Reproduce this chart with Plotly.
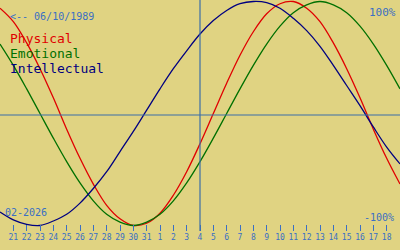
import plotly.graph_objects as go

# day index: 0 = Jan 21 (2026), -1 = Jan 20 ... 29 = Feb 19
days = list(range(-1, 30))
tick_days = list(range(0, 29))
tick_labels = ["21", "22", "23", "24", "25", "26", "27", "28", "29", "30", "31",
               "1", "2", "3", "4", "5", "6", "7", "8", "9", "10", "11", "12",
               "13", "14", "15", "16", "17", "18"]

physical = [94, 82, 63, 40, 14, -14, -40, -63, -82, -94, -100, -98, -89, -73, -52, -27,
            0, 27, 52, 73, 89, 98, 100, 94, 82, 63, 40, 14, -14, -40, -63]
emotional = [62, 43, 22, 0, -22, -43, -62, -78, -90, -97, -100, -97, -90, -78, -62, -43,
             -22, 0, 22, 43, 62, 78, 90, 97, 100, 97, 90, 78, 62, 43, 22]
intellectual = [-88, -95, -99, -100, -96, -90, -80, -67, -52, -34, -16, 3, 22, 40, 56, 71,
                83, 92, 98, 100, 99, 94, 85, 74, 60, 43, 25, 7, -12, -30, -45]

today = 14          # Feb 4
birth_text = "<-- 06/10/1989"
date_text = "02-2026"
series_names = ["Physical", "Emotional", "Intellectual"]

BG = "#E0D382"
BLUE = "#3A6FC4"
LINE = "#3A6EA8"
COLORS = ["#E00000", "#007000", "#000080"]
FONT = "DejaVu Sans Mono"

W, H = 400, 250
PB = 231  # plot bottom pixel


def px(x):
    return x / W


def py(p):
    return (PB - p) / PB


fig = go.Figure()
for name, vals, col in zip(series_names, [physical, emotional, intellectual], COLORS):
    fig.add_trace(go.Scatter(x=days, y=vals, mode="lines", name=name,
                             line=dict(color=col, width=1.3, shape="spline"),
                             hoverinfo="skip"))

fig.add_shape(type="line", xref="paper", yref="paper", x0=0, x1=1,
              y0=py(115), y1=py(115), line=dict(color=LINE, width=1.2))
fig.add_shape(type="line", xref="x", yref="paper", x0=today, x1=today,
              y0=0, y1=1, line=dict(color=LINE, width=1.2))

ann = []
ann.append(dict(text=birth_text, x=px(8), y=py(17), xanchor="left", yanchor="middle",
                font=dict(family=FONT, size=10, color=BLUE)))
for i, (name, col) in enumerate(zip(series_names, COLORS)):
    ann.append(dict(text=name, x=px(8), y=py(38.5 + 15 * i), xanchor="left",
                    yanchor="middle", font=dict(family=FONT, size=13, color=col)))
ann.append(dict(text="100%", x=px(398), y=py(12), xanchor="right", yanchor="middle",
                font=dict(family=FONT, size=11, color=BLUE)))
ann.append(dict(text="-100%", x=px(396), y=py(217.5), xanchor="right", yanchor="middle",
                font=dict(family=FONT, size=10, color=BLUE)))
ann.append(dict(text=date_text, x=px(3), y=py(212), xanchor="left", yanchor="middle",
                font=dict(family=FONT, size=10, color=BLUE)))
for a in ann:
    a.update(xref="paper", yref="paper", showarrow=False)

fig.update_layout(
    width=W, height=H,
    margin=dict(l=0, r=0, t=0, b=H - PB, pad=0),
    paper_bgcolor=BG, plot_bgcolor=BG,
    showlegend=False,
    annotations=ann,
    xaxis=dict(range=[-1, 29], tickmode="array", tickvals=tick_days, ticktext=tick_labels,
               ticks="inside", ticklen=6, tickwidth=1, tickcolor=BLUE,
               tickfont=dict(family=FONT, size=8, color=BLUE),
               showgrid=False, zeroline=False, showline=False, fixedrange=True),
    yaxis=dict(range=[-(PB - 113.5) / 1.12, 113.5 / 1.12], visible=False,
               showgrid=False, zeroline=False, fixedrange=True),
)

fig.write_html("out.html", config={"displayModeBar": False})
